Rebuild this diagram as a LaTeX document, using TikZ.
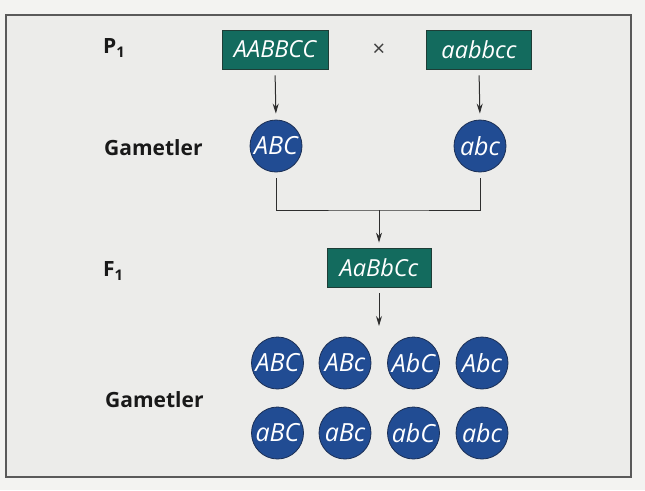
\documentclass[tikz,border=0pt]{standalone}
\usepackage{fontspec}
\setmainfont{Open Sans}
\usetikzlibrary{arrows.meta}
\definecolor{bxgreen}{HTML}{136B5E}
\definecolor{bxedge}{HTML}{1E3D36}
\definecolor{gblue}{HTML}{214C93}
\definecolor{gedge}{HTML}{1B2F55}
\definecolor{paper}{HTML}{ECECEA}
\definecolor{outerpaper}{HTML}{F3F3F1}
\definecolor{framec}{HTML}{5A5A5A}
\definecolor{linec}{HTML}{2E2E2E}
\tikzset{
  geno/.style={rectangle, fill=bxgreen, draw=bxedge, line width=0.8pt, text=white,
    minimum height=39pt, inner sep=0pt, font=\fontsize{23.5}{26}\selectfont\itshape},
  gam/.style={circle, fill=gblue, draw=gedge, line width=0.8pt, text=white,
    minimum size=52pt, inner sep=0pt, font=\fontsize{25}{28}\selectfont\itshape},
  lab/.style={anchor=west, inner sep=0pt, text=black!90, font=\fontsize{21}{24}\selectfont\bfseries},
  conn/.style={draw=linec, line width=1pt},
  arr/.style={conn, -{Stealth[length=10pt,width=6pt]}},
}
\begin{document}
\begin{tikzpicture}[x=1pt,y=-1pt]
\useasboundingbox (0,0) rectangle (645,490);
\fill[outerpaper] (0,0) rectangle (645,490);
\draw[framec, fill=paper, line width=1.2pt] (6,15) rectangle (631,477);

% row labels
\node[lab] (lp) at (103,48) {P\textsubscript{1}};
\node[lab] (lg1) at (104,148) {Gametler};
\node[lab] (lf) at (103,271) {F\textsubscript{1}};
\node[lab] (lg2) at (105,400) {Gametler};

% parents
\node[geno, minimum width=106pt] (p1) at (275,49.5) {AABBCC};
\node[geno, minimum width=105pt] (p2) at (479,49.5) {aabbcc};
\node[text=black!75, font=\fontsize{22}{24}\selectfont] (x) at (379,50) {×};

% parental gametes
\node[gam] (g1) at (276,146) {ABC};
\node[gam] (g2) at (480,146) {abc};

% F1
\node[geno, minimum width=104pt] (f1) at (379,267.5) {AaBbCc};

% F1 gametes
\node[gam] (q1) at (277.5,363) {ABC};
\node[gam] (q2) at (345,363) {ABc};
\node[gam] (q3) at (413.5,363) {AbC};
\node[gam] (q4) at (482,363) {Abc};
\node[gam] (q5) at (277.5,433) {aBC};
\node[gam] (q6) at (345,433) {aBc};
\node[gam] (q7) at (413.5,433) {abC};
\node[gam] (q8) at (482,433) {abc};

% connectors
\draw[arr, shorten <=6pt, shorten >=6pt] (p1.south) -- (g1.north);
\draw[arr, shorten <=6pt, shorten >=6pt] (p2.south) -- (g2.north);
\coordinate (j) at (379,210);
\draw[conn] ([yshift=-6pt]g1.south) |- (j) -| ([yshift=-6pt]g2.south);
\draw[arr, shorten >=5pt] (j) -- (f1.north);
\coordinate (e) at (379,326);
\draw[arr, shorten <=6pt] (f1.south) -- (e);
\end{tikzpicture}
\end{document}
